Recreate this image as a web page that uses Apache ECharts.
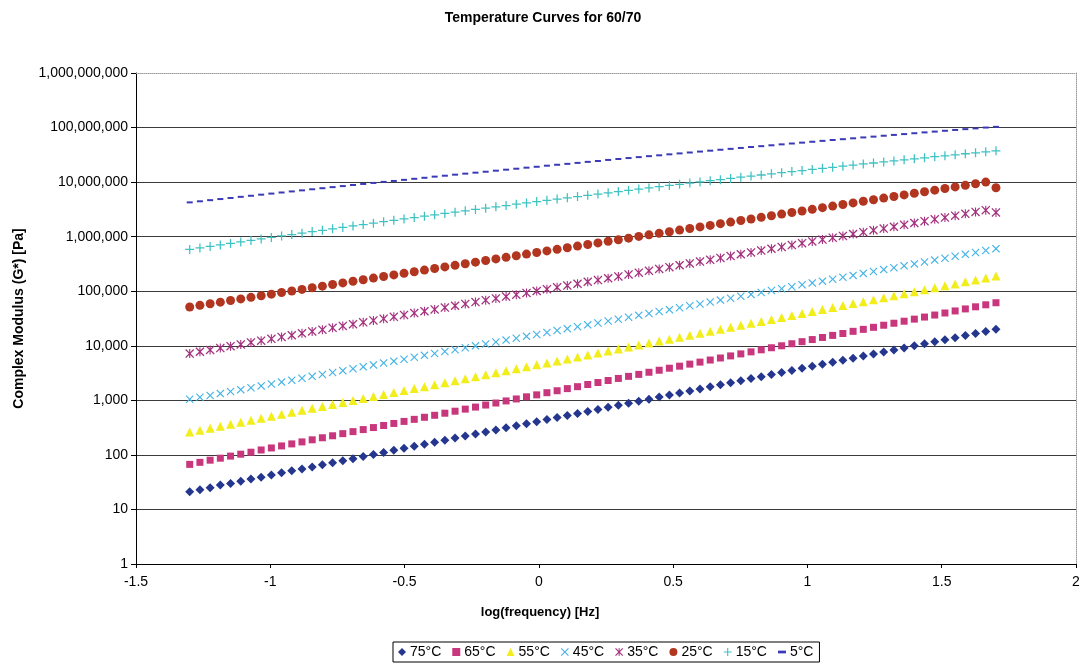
<!DOCTYPE html>
<html>
<head>
<meta charset="utf-8">
<title>Temperature Curves for 60/70</title>
<script src="https://cdn.jsdelivr.net/npm/echarts@6/dist/echarts.min.js"></script>
<style>
  html, body { margin: 0; padding: 0; background: #fff; }
  #chart { width: 1084px; height: 665px; }
</style>
</head>
<body>
<div id="chart"></div>
<script>
// log10 of the test frequency [Hz], one entry per measurement
const logFreq = [
  -1.300,-1.262,-1.224,-1.186,-1.148,-1.110,-1.072,-1.034,-0.996,-0.958,
  -0.920,-0.882,-0.844,-0.806,-0.768,-0.730,-0.692,-0.654,-0.616,-0.578,
  -0.540,-0.502,-0.464,-0.426,-0.388,-0.350,-0.312,-0.274,-0.236,-0.198,
  -0.160,-0.122,-0.084,-0.046,-0.008, 0.030, 0.068, 0.106, 0.144, 0.182,
   0.220, 0.258, 0.296, 0.334, 0.372, 0.410, 0.448, 0.486, 0.524, 0.562,
   0.600, 0.638, 0.676, 0.714, 0.752, 0.790, 0.828, 0.866, 0.904, 0.942,
   0.980, 1.018, 1.056, 1.094, 1.132, 1.170, 1.208, 1.246, 1.284, 1.322,
   1.360, 1.398, 1.436, 1.474, 1.512, 1.550, 1.588, 1.626, 1.664, 1.702
];

// Complex modulus G* [Pa] per test temperature
const g75 = [
  21,23,25,28,30,33,36,39,43,47,
  51,55,60,66,72,78,85,93,102,111,
  121,132,144,157,171,186,203,221,241,263,
  287,313,341,372,406,443,482,526,573,625,
  682,743,811,883,964,1050,1150,1250,1360,1490,
  1620,1770,1930,2100,2290,2500,2720,2970,3240,3530,
  3860,4200,4580,4990,5450,5930,6470,7060,7690,8400,
  9140,9980,10900,11900,12900,14100,15400,16800,18300,20000
];
const g65 = [
  67,73,80,87,95,103,112,123,134,146,
  159,173,189,206,224,245,267,291,317,346,
  377,411,448,489,532,581,632,690,752,820,
  893,975,1060,1160,1260,1380,1500,1640,1780,1950,
  2120,2310,2520,2750,2990,3270,3560,3880,4230,4610,
  5020,5480,5970,6520,7100,7740,8430,9200,10000,10900,
  11900,13000,14200,15500,16800,18400,20000,21800,23800,25900,
  28200,30800,33600,36600,39900,43500,47400,51800,56400,61500
];
const g55 = [
  262,284,309,336,366,397,432,470,511,555,
  603,656,713,774,841,915,995,1080,1170,1280,
  1390,1510,1640,1780,1940,2110,2290,2490,2700,2940,
  3200,3480,3780,4110,4470,4850,5270,5740,6240,6780,
  7360,8000,8710,9460,10300,11200,12200,13200,14400,15600,
  17000,18500,20000,21800,23700,25800,28000,30400,33000,36000,
  39100,42500,46100,50200,54600,59300,64400,70000,76200,82800,
  89900,97700,106000,116000,126000,136000,149000,161000,175000,191000
];
const g45 = [
  1050,1140,1230,1330,1450,1570,1700,1840,1990,2160,
  2340,2540,2750,2980,3230,3500,3790,4110,4460,4830,
  5230,5680,6150,6670,7230,7830,8480,9190,9960,10800,
  11700,12700,13700,14900,16100,17500,19000,20600,22300,24200,
  26200,28400,30700,33300,36100,39100,42400,45900,49800,54000,
  58500,63400,68700,74500,80700,87500,94800,103000,111000,121000,
  131000,142000,153000,166000,180000,195000,212000,230000,249000,270000,
  292000,317000,343000,372000,403000,437000,474000,514000,557000,603000
];
const g35 = [
  7190,7780,8400,9080,9820,10600,11500,12400,13400,14500,
  15600,16900,18300,19700,21300,23100,24900,26900,29100,31400,
  34000,36700,39700,42900,46300,50100,54200,58500,63200,68400,
  73800,79800,86300,93100,101000,109000,118000,127000,137000,149000,
  160000,173000,187000,203000,219000,237000,256000,276000,299000,323000,
  349000,377000,407000,440000,476000,514000,556000,601000,649000,701000,
  759000,818000,885000,957000,1.03e6,1.12e6,1.21e6,1.31e6,1.41e6,1.52e6,
  1.65e6,1.78e6,1.92e6,2.08e6,2.24e6,2.43e6,2.62e6,2.84e6,3.06e6,2.78e6
];
const g25 = [
  51500,55100,59000,63100,67500,72200,77300,82700,88400,94600,
  101000,108000,116000,124000,133000,142000,152000,162000,174000,186000,
  199000,213000,228000,244000,261000,279000,298000,319000,341000,365000,
  391000,418000,447000,479000,512000,548000,586000,627000,671000,718000,
  768000,822000,879000,940000,1.01e6,1.08e6,1.15e6,1.23e6,1.32e6,1.41e6,
  1.51e6,1.61e6,1.73e6,1.85e6,1.98e6,2.11e6,2.26e6,2.42e6,2.59e6,2.77e6,
  2.96e6,3.17e6,3.40e6,3.63e6,3.88e6,4.16e6,4.45e6,4.75e6,5.09e6,5.44e6,
  5.82e6,6.24e6,6.67e6,7.13e6,7.64e6,8.17e6,8.73e6,9.35e6,1.00e7,7.87e6
];
const g15 = [
  582000,621000,662000,705000,752000,800000,853000,908000,966000,1.03e6,
  1.09e6,1.16e6,1.24e6,1.31e6,1.39e6,1.48e6,1.57e6,1.67e6,1.77e6,1.88e6,
  1.99e6,2.11e6,2.24e6,2.37e6,2.51e6,2.66e6,2.81e6,2.98e6,3.15e6,3.33e6,
  3.52e6,3.72e6,3.94e6,4.16e6,4.39e6,4.63e6,4.89e6,5.16e6,5.44e6,5.74e6,
  6.05e6,6.37e6,6.71e6,7.08e6,7.45e6,7.83e6,8.24e6,8.67e6,9.12e6,9.59e6,
  1.01e7,1.06e7,1.11e7,1.17e7,1.23e7,1.29e7,1.35e7,1.42e7,1.49e7,1.56e7,
  1.63e7,1.71e7,1.79e7,1.87e7,1.96e7,2.05e7,2.15e7,2.24e7,2.34e7,2.45e7,
  2.56e7,2.67e7,2.79e7,2.92e7,3.04e7,3.17e7,3.31e7,3.45e7,3.60e7,3.75e7
];
const g5 = [
  4.25e6,4.45e6,4.67e6,4.89e6,5.12e6,5.37e6,5.62e6,5.89e6,6.16e6,6.45e6,
  6.75e6,7.06e6,7.39e6,7.73e6,8.09e6,8.45e6,8.85e6,9.25e6,9.66e6,1.01e7,
  1.05e7,1.10e7,1.15e7,1.20e7,1.26e7,1.31e7,1.37e7,1.43e7,1.49e7,1.55e7,
  1.62e7,1.69e7,1.76e7,1.84e7,1.91e7,2.00e7,2.08e7,2.16e7,2.25e7,2.35e7,
  2.44e7,2.55e7,2.65e7,2.76e7,2.87e7,2.99e7,3.10e7,3.23e7,3.36e7,3.49e7,
  3.63e7,3.77e7,3.92e7,4.07e7,4.23e7,4.40e7,4.56e7,4.73e7,4.92e7,5.10e7,
  5.29e7,5.49e7,5.70e7,5.92e7,6.12e7,6.35e7,6.59e7,6.82e7,7.08e7,7.33e7,
  7.59e7,7.87e7,8.15e7,8.43e7,8.73e7,9.04e7,9.35e7,9.66e7,1.00e8,1.03e8
];

const seriesNames = ['75°C', '65°C', '55°C', '45°C', '35°C', '25°C', '15°C', '5°C'];
const seriesValues = [g75, g65, g55, g45, g35, g25, g15, g5];

// Marker shapes in the style of a classic spreadsheet chart
const CROSS = 'M0,1L1,0L5,4L9,0L10,1L6,5L10,9L9,10L5,6L1,10L0,9L4,5Z';
const BAR = 'M4.4,0L5.6,0L5.6,10L4.4,10Z';
const PLUS = 'M4.3,0H5.7V4.3H10V5.7H5.7V10H4.3V5.7H0V4.3H4.3Z';
const DASH = 'M0,0H7V2.4H0Z';

const markers = [
  { symbol: 'diamond', size: 9, icon: 'diamond', color: '#24368e' },
  { symbol: 'rect', size: 7, icon: 'rect', color: '#c8367d' },
  { symbol: 'triangle', size: 9, icon: 'triangle', color: '#f2ee1c' },
  { symbol: 'path://' + CROSS, size: 8, icon: 'path://' + CROSS, color: '#45b3e6' },
  { symbol: 'path://' + CROSS + BAR, size: 9, icon: 'path://' + CROSS + BAR, color: '#a4327e' },
  { symbol: 'circle', size: 9, icon: 'circle', color: '#b2351f' },
  { symbol: 'path://' + PLUS, size: 9, icon: 'path://' + PLUS, color: '#3fc2c2' },
  { symbol: 'rect', size: [6, 2], icon: 'path://' + DASH, color: '#3a3ab6' }
];

const FONT = '"Liberation Sans", Arial, Helvetica, sans-serif';

const chart = echarts.init(document.getElementById('chart'), null, { renderer: 'canvas' });

chart.setOption({
  animation: false,
  backgroundColor: '#ffffff',
  textStyle: { fontFamily: FONT, color: '#000' },
  title: {
    text: 'Temperature Curves for 60/70',
    left: 538,
    top: 6,
    textAlign: 'center',
    textStyle: { fontFamily: FONT, fontSize: 14, fontWeight: 'bold', color: '#000' }
  },
  grid: { left: 136, right: 8, top: 73, bottom: 101 },
  legend: {
    left: 393,
    top: 642,
    orient: 'horizontal',
    itemWidth: 8,
    itemHeight: 8,
    itemGap: 11,
    padding: [3, 6, 3, 5],
    borderColor: '#000',
    borderWidth: 1,
    borderRadius: 0,
    textStyle: { fontFamily: FONT, fontSize: 14, color: '#000', padding: [0, 0, 0, -1] },
    data: seriesNames.map((n, i) => ({ name: n, icon: markers[i].icon }))
  },
  xAxis: [
    {
      type: 'value',
      min: -1.5,
      max: 2,
      interval: 0.5,
      name: 'log(frequency) [Hz]',
      nameLocation: 'middle',
      nameGap: 42,
      nameTextStyle: {
        fontFamily: FONT, fontSize: 13, fontWeight: 'bold', color: '#000',
        padding: [0, 132, 0, 0]
      },
      axisLine: { show: true, onZero: false, lineStyle: { color: '#000', width: 1 } },
      axisTick: { show: true, length: 4, lineStyle: { color: '#000' } },
      axisLabel: { fontFamily: FONT, fontSize: 14, color: '#000', margin: 11 },
      splitLine: { show: false }
    },
    {
      type: 'value',
      position: 'top',
      min: -1.5,
      max: 2,
      interval: 0.5,
      axisLine: { show: true, onZero: false, lineStyle: { color: '#9a9a9a', type: 'dotted', width: 1 } },
      axisTick: { show: false },
      axisLabel: { show: false },
      splitLine: { show: false }
    }
  ],
  yAxis: [
    {
      type: 'log',
      logBase: 10,
      min: 1,
      max: 1e9,
      splitNumber: 9,
      name: 'Complex Modulus (G*) [Pa]',
      nameLocation: 'middle',
      nameGap: 110,
      nameRotate: 90,
      nameTextStyle: { fontFamily: FONT, fontSize: 14, fontWeight: 'bold', color: '#000' },
      axisLine: { show: true, onZero: false, lineStyle: { color: '#000', width: 1 } },
      axisTick: { show: true, length: 5, lineStyle: { color: '#000' } },
      axisLabel: {
        fontFamily: FONT, fontSize: 14, color: '#000', margin: 8,
        formatter: v => Math.round(v).toLocaleString('en-US')
      },
      minorTick: { show: false },
      splitLine: {
        show: true,
        showMinLine: false,
        showMaxLine: false,
        lineStyle: { color: '#3a3a3a', width: 1 }
      }
    },
    {
      type: 'log',
      logBase: 10,
      position: 'right',
      min: 1,
      max: 1e9,
      splitNumber: 9,
      axisLine: { show: true, onZero: false, lineStyle: { color: '#9a9a9a', type: 'dotted', width: 1 } },
      axisTick: { show: false },
      axisLabel: { show: false },
      splitLine: { show: false }
    }
  ],
  series: seriesNames.map((name, i) => ({
    name,
    type: 'scatter',
    xAxisIndex: 0,
    yAxisIndex: 0,
    symbol: markers[i].symbol,
    symbolSize: markers[i].size,
    itemStyle: { color: markers[i].color, opacity: 1 },
    emphasis: { disabled: true },
    data: logFreq.map((x, k) => [x, seriesValues[i][k]])
  }))
});
</script>
</body>
</html>
